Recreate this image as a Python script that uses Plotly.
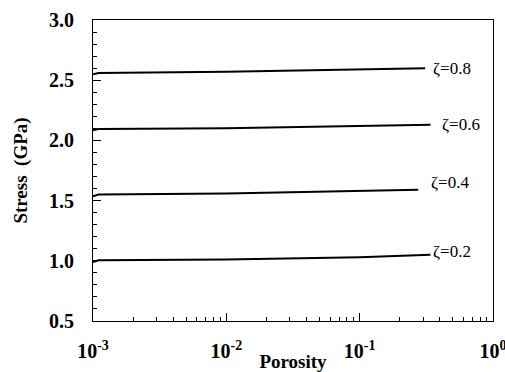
import math
import plotly.graph_objects as go

# Data
porosity_08 = [0.001, 0.0011, 0.01, 0.1, 0.31]
stress_08 = [2.55, 2.56, 2.57, 2.59, 2.60]
porosity_06 = [0.001, 0.0011, 0.01, 0.1, 0.34]
stress_06 = [2.085, 2.095, 2.10, 2.12, 2.13]
porosity_04 = [0.001, 0.0011, 0.01, 0.1, 0.275]
stress_04 = [1.535, 1.55, 1.56, 1.58, 1.59]
porosity_02 = [0.001, 0.0011, 0.01, 0.1, 0.34]
stress_02 = [0.99, 1.005, 1.01, 1.03, 1.05]

labels = ["ζ=0.8", "ζ=0.6", "ζ=0.4", "ζ=0.2"]
label_porosity = [0.34, 0.40, 0.33, 0.345]
label_stress = [2.60, 2.13, 1.65, 1.08]

x_tickvals = [0.001, 0.01, 0.1, 1]
x_ticktext = ["10<sup>-3</sup>", "10<sup>-2</sup>", "10<sup>-1</sup>", "10<sup>0</sup>"]
y_tickvals = [0.5, 1.0, 1.5, 2.0, 2.5, 3.0]
y_ticktext = ["0.5", "1.0", "1.5", "2.0", "2.5", "3.0"]

series = [(porosity_08, stress_08), (porosity_06, stress_06),
          (porosity_04, stress_04), (porosity_02, stress_02)]

fig = go.Figure()
for (xs, ys), lab in zip(series, labels):
    fig.add_trace(go.Scatter(x=xs, y=ys, mode="lines",
                             line=dict(color="black", width=2), name=lab,
                             showlegend=False))

for lab, lx, ly in zip(labels, label_porosity, label_stress):
    fig.add_annotation(x=math.log10(lx), y=ly, xref="x", yref="y", text=lab,
                       showarrow=False, xanchor="left", yanchor="middle",
                       font=dict(family="Liberation Serif", size=17, color="black"))

serif_bold = dict(family="Liberation Serif", size=20, color="black", weight="bold")
title_font = dict(family="Liberation Serif", size=19, color="black", weight="bold")

fig.update_layout(
    width=505, height=372,
    margin=dict(l=93, r=12, t=20, b=51),
    paper_bgcolor="white", plot_bgcolor="white",
    xaxis=dict(type="log", range=[-3, 0], showline=True, linecolor="black",
               linewidth=1, mirror=True, showgrid=False, zeroline=False,
               automargin=False,
               tickvals=x_tickvals, ticktext=x_ticktext,
               ticks="inside", ticklen=8, tickcolor="black",
               minor=dict(ticks="inside", ticklen=4, tickcolor="black", dtick="D1", showgrid=False),
               tickfont=serif_bold, ticklabelstandoff=12, ticklabeloverflow="allow",
               title=dict(text="Porosity", standoff=0, font=title_font)),
    yaxis=dict(range=[0.5, 3.0], showline=True, linecolor="black", linewidth=1,
               mirror=True, showgrid=False, zeroline=False,
               automargin=False,
               tickvals=y_tickvals, ticktext=y_ticktext,
               ticks="inside", ticklen=8, tickcolor="black",
               minor=dict(ticks="inside", ticklen=4, tickcolor="black", dtick=0.1, showgrid=False),
               tickfont=serif_bold, ticklabelstandoff=14,
               title=dict(text="Stress  (GPa)", standoff=16, font=title_font)),
)

fig.write_html("out.html", config={"displayModeBar": False},
               post_script="document.body.style.margin='0';document.body.style.overflow='hidden';")
